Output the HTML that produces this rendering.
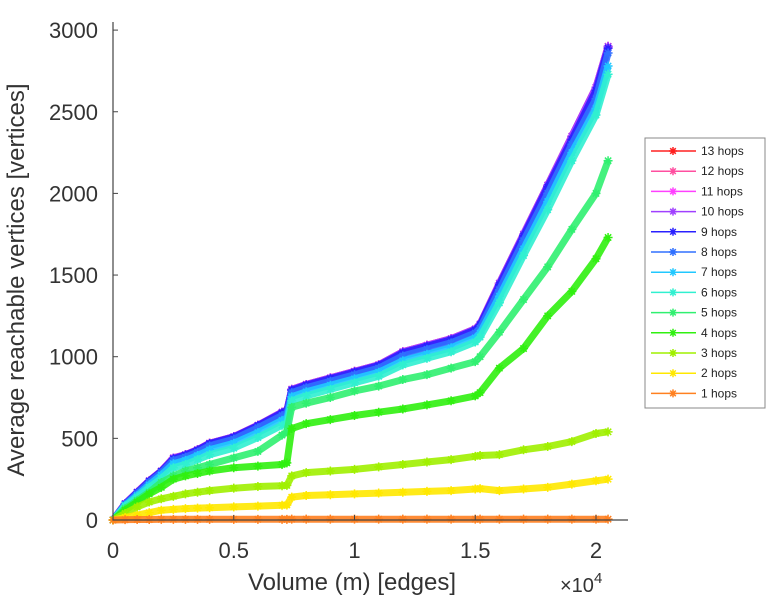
<!DOCTYPE html>
<html><head><meta charset="utf-8"><style>
body{margin:0;background:#fff;}
svg{display:block;font-family:"Liberation Sans",sans-serif;}
</style></head><body>
<svg id="chart" width="768" height="600">
<g id="plot"></g>
<g id="axes"></g>
<g id="legend"></g>
</svg>
<script>
const xVals = [0,0.05,0.1,0.15,0.2,0.25,0.3,0.35,0.4,0.5,0.6,0.7,0.72,0.74,0.8,0.9,1.0,1.1,1.2,1.3,1.4,1.5,1.52,1.6,1.7,1.8,1.9,2.0,2.05];
const hops13 = [0,100,170,240,300,380,400,430,470,510,580,660,670,800,830,870,910,950,1030,1070,1110,1170,1200,1450,1750,2050,2350,2650,2900];
const hops12 = [0,100,170,240,300,380,400,430,470,510,580,660,670,800,830,870,910,950,1030,1070,1110,1170,1200,1450,1750,2050,2350,2650,2900];
const hops11 = [0,100,170,240,300,380,400,430,470,510,580,660,670,800,830,870,910,950,1030,1070,1110,1170,1200,1450,1750,2050,2350,2650,2900];
const hops10 = [0,100,170,240,300,380,400,430,470,510,580,660,670,800,830,870,910,950,1030,1070,1110,1170,1200,1450,1750,2050,2350,2650,2900];
const hops9 = [0,98,168,238,298,375,398,428,468,508,578,656,668,795,826,866,906,946,1024,1064,1104,1164,1195,1440,1740,2040,2330,2630,2890];
const hops8 = [0,95,162,230,290,365,385,415,455,495,565,640,650,780,810,850,890,930,1005,1045,1085,1145,1175,1410,1710,2000,2300,2580,2860];
const hops7 = [0,90,150,215,275,345,365,395,430,470,535,610,620,755,785,825,865,905,975,1015,1055,1115,1145,1370,1660,1950,2250,2520,2780];
const hops6 = [0,85,140,200,255,320,340,370,400,440,505,580,590,730,760,800,840,880,950,990,1030,1090,1120,1330,1620,1900,2200,2480,2730];
const hops5 = [0,70,120,170,230,270,300,320,340,380,420,520,540,690,715,750,790,820,860,890,930,970,1000,1150,1350,1550,1780,2000,2200];
const hops4 = [0,60,110,160,200,250,270,285,300,320,330,340,350,560,590,615,640,660,680,705,730,760,780,930,1050,1250,1400,1600,1730];
const hops3 = [0,40,80,110,130,145,160,170,180,195,205,210,212,270,290,300,310,325,340,355,370,390,395,400,430,450,480,530,540];
const hops2 = [0,15,30,45,60,65,70,73,75,80,85,90,92,140,150,155,160,165,170,175,180,190,192,180,190,200,220,240,250];
const hops1 = [0,2,3,3,4,4,4,4,4,4,4,4,4,5,5,5,5,5,5,5,5,5,5,5,5,5,5,5,5];
const seriesNames = ["13 hops","12 hops","11 hops","10 hops","9 hops","8 hops","7 hops","6 hops","5 hops","4 hops","3 hops","2 hops","1 hops"];
const seriesData = [hops13,hops12,hops11,hops10,hops9,hops8,hops7,hops6,hops5,hops4,hops3,hops2,hops1];
const xTicks = [0,0.5,1,1.5,2];
const xTickLabels = ["0","0.5","1","1.5","2"];
const yTicks = [0,500,1000,1500,2000,2500,3000];
const colors = ["#ff2020","#ff4fa0","#ff40ff","#a040ff","#2a20ff","#3070ff","#20c8ff","#30f0d0","#30f070","#30f010","#a0f000","#ffe800","#ff8020"];

const NS="http://www.w3.org/2000/svg";
const L=113,R=628,T=22,B=520;
const sx=v=>L+v*241.5;
const sy=v=>B-v*0.1633;
function mk(tag,attrs,parent){const e=document.createElementNS(NS,tag);for(const k in attrs)e.setAttribute(k,attrs[k]);parent.appendChild(e);return e;}
function star(g,x,y,c,s){
  mk('path',{d:`M${x-s} ${y}H${x+s}M${x} ${y-s}V${y+s}M${x-s*0.7} ${y-s*0.7}L${x+s*0.7} ${y+s*0.7}M${x-s*0.7} ${y+s*0.7}L${x+s*0.7} ${y-s*0.7}`,stroke:c,'stroke-width':1.5,fill:'none'},g);
}
const plot=document.getElementById('plot');
seriesData.forEach((arr,i)=>{
  const g=mk('g',{},plot);
  
  
  const d=arr.map((v,j)=>(j?'L':'M')+sx(xVals[j]).toFixed(1)+' '+sy(v).toFixed(1)).join('');
  const p=mk('path',{d:d,stroke:colors[i],'stroke-width':7,'stroke-opacity':0.9,fill:'none','stroke-linejoin':'round'},g);
  
  
  arr.forEach((v,j)=>star(g,sx(xVals[j]),sy(v),colors[i],4.5));
});
const ax=document.getElementById('axes');
mk('path',{d:`M${L} ${T}V${B}H${R}`,stroke:'#444','stroke-width':1.2,fill:'none'},ax);
xTicks.forEach((t,i)=>{
  mk('line',{x1:sx(t),x2:sx(t),y1:B,y2:B-5,stroke:'#444'},ax);
  const tx=mk('text',{x:sx(t),y:558,'font-size':22,'text-anchor':'middle',fill:'#333'},ax);
  tx.textContent=xTickLabels[i];
  
  
});
yTicks.forEach(t=>{
  mk('line',{x1:L,x2:L+5,y1:sy(t),y2:sy(t),stroke:'#444'},ax);
  const tx=mk('text',{x:98,y:sy(t)+8,'font-size':22,'text-anchor':'end',fill:'#333'},ax);
  tx.textContent=t;
  
  
});
const xt=mk('text',{x:352,y:590,'font-size':24,'text-anchor':'middle',fill:'#333'},ax);
xt.textContent='Volume (m) [edges]';


const ex=mk('text',{x:560,y:592,'font-size':20,fill:'#333'},ax);
ex.innerHTML='×10<tspan dy="-9" font-size="15">4</tspan>';


const yt=mk('text',{x:0,y:0,'font-size':24,'text-anchor':'middle',fill:'#333',transform:'translate(24,280) rotate(-90)'},ax);
yt.textContent='Average reachable vertices [vertices]';



const lg=document.getElementById('legend');
mk('rect',{x:645,y:138,width:120,height:270,fill:'#fff',stroke:'#888','stroke-width':1},lg);
seriesNames.forEach((n,i)=>{
  const y=151+i*20.2;
  const g=mk('g',{},lg);
  
  
  mk('line',{x1:651,x2:696,y1:y,y2:y,stroke:colors[i],'stroke-width':1.5},g);
  star(g,673,y,colors[i],4);
  const t=mk('text',{x:701,y:y+4,'font-size':12,fill:'#222'},g);
  t.textContent=n;
});
</script>
</body></html>
